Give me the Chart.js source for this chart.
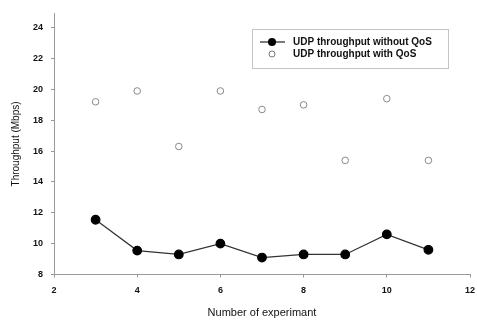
<!DOCTYPE html>
<html>
<head>
<meta charset="utf-8">
<script src="https://cdn.jsdelivr.net/npm/chart.js@4/dist/chart.umd.min.js"></script>
<style>
  html, body { margin:0; padding:0; background:#fff; }
  #wrap { width:477px; height:320px; position:relative; }
</style>
</head>
<body>
<div id="wrap"><canvas id="c" width="477" height="320"></canvas></div>
<script>
'use strict';

// ── Data ─────────────────────────────────────────────────────────────────────
const experiments = [3, 4, 5, 6, 7, 8, 9, 10, 11];
const withoutQoS = [11.55, 9.55, 9.3, 10.0, 9.1, 9.3, 9.3, 10.6, 9.6];
const withQoS = [19.2, 19.9, 16.3, 19.9, 18.7, 19.0, 15.4, 19.4, 15.4];
const seriesLabels = ['UDP throughput without QoS', 'UDP throughput with QoS'];
const xTicks = [2, 4, 6, 8, 10, 12];
const yTicks = [8, 10, 12, 14, 16, 18, 20, 22, 24];

const FONT = '"Liberation Sans", Arial, sans-serif';

// ── Legend box drawn inside the plot ─────────────────────────────────────────
const boxLegend = {
  id: 'boxLegend',
  afterDraw(chart) {
    const c = chart.ctx;
    const x0 = 252, y0 = 29, w = 196, h = 39;
    c.save();
    c.strokeStyle = '#888'; c.lineWidth = 1; c.setLineDash([1, 1]);
    c.strokeRect(x0 + 0.5, y0 + 0.5, w, h);
    c.setLineDash([]);
    // row 1: line + filled dot
    c.strokeStyle = '#222'; c.lineWidth = 1.2;
    c.beginPath(); c.moveTo(260, 42); c.lineTo(285, 42); c.stroke();
    c.fillStyle = '#000';
    c.beginPath(); c.arc(272, 42, 4, 0, Math.PI * 2); c.fill();
    // row 2: open circle
    c.strokeStyle = '#777'; c.lineWidth = 1;
    c.beginPath(); c.arc(272, 54, 3, 0, Math.PI * 2); c.stroke();
    c.fillStyle = '#111';
    c.font = 'bold 10px ' + FONT;
    c.textBaseline = 'middle';
    c.fillText(seriesLabels[0], 293, 42);
    c.fillText(seriesLabels[1], 293, 54);
    c.restore();
  }
};

new Chart(document.getElementById('c'), {
  type: 'line',
  data: {
    datasets: [
      {
        label: seriesLabels[0],
        data: experiments.map((x, i) => ({ x, y: withoutQoS[i] })),
        borderColor: '#333', borderWidth: 1.2,
        pointBackgroundColor: '#000', pointBorderColor: '#000',
        pointRadius: 4.3, pointHoverRadius: 4.3, tension: 0
      },
      {
        label: seriesLabels[1],
        data: experiments.map((x, i) => ({ x, y: withQoS[i] })),
        showLine: false,
        pointBackgroundColor: '#fff', pointBorderColor: '#888',
        pointBorderWidth: 1, pointRadius: 3.3, pointHoverRadius: 3.3
      }
    ]
  },
  options: {
    responsive: false, animation: false,
    layout: { padding: { left: 0, right: 0, top: 10, bottom: 0 } },
    plugins: { legend: { display: false }, tooltip: { enabled: false } },
    scales: {
      x: {
        type: 'linear', min: 2, max: 12,
        afterBuildTicks: s => { s.ticks = xTicks.map(v => ({ value: v })); },
        afterFit: s => { s.height = 45.5; s.paddingRight = 7; },
        grid: { display: true, drawOnChartArea: false, tickLength: 3, color: '#999' },
        border: { display: true, color: '#999', dash: [1, 1] },
        ticks: { color: '#111', font: { family: FONT, size: 9, weight: 'bold' }, padding: 8, maxRotation: 0 },
        title: { display: true, text: 'Number of experimant', color: '#111', font: { family: FONT, size: 11 }, padding: { top: 6, bottom: 0 } }
      },
      y: {
        type: 'linear', min: 8, max: 24.93,
        afterBuildTicks: s => { s.ticks = yTicks.map(v => ({ value: v })); },
        afterFit: s => { s.width = 54; },
        grid: { display: true, drawOnChartArea: false, tickLength: 3, color: '#999' },
        border: { display: true, color: '#999', dash: [1, 1] },
        ticks: { color: '#111', font: { family: FONT, size: 9, weight: 'bold' }, padding: 8 },
        title: { display: true, text: 'Throughput (Mbps)', color: '#111', font: { family: FONT, size: 10 }, padding: { top: 10, bottom: 0 } }
      }
    }
  },
  plugins: [boxLegend]
});
</script>
</body>
</html>
